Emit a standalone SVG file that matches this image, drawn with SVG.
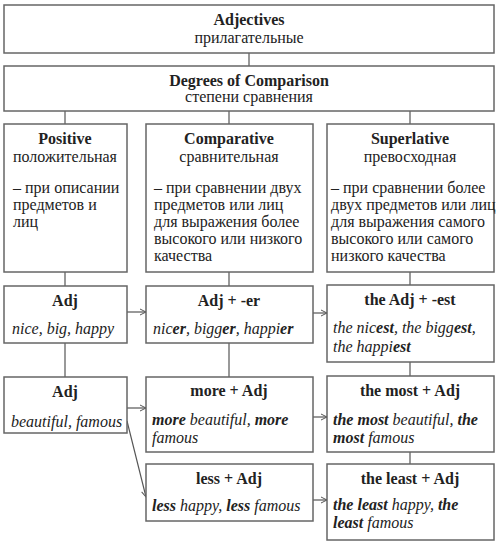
<svg xmlns="http://www.w3.org/2000/svg" width="500" height="552" viewBox="0 0 500 552">
<defs>
<marker id="ah" viewBox="0 0 8 8" refX="7" refY="4" markerWidth="8" markerHeight="8" markerUnits="userSpaceOnUse" orient="auto">
<path d="M1,1 L7,4 L1,7" fill="none" stroke="#555" stroke-width="1"/>
</marker>
</defs>
<rect width="500" height="552" fill="#fff"/>
<g id="connectors" stroke="#555" stroke-width="1.2" fill="none">
<line x1="249" y1="53" x2="249" y2="66"/>
<line x1="65" y1="111" x2="65" y2="124"/>
<line x1="229" y1="111" x2="229" y2="124"/>
<line x1="410" y1="111" x2="410" y2="124"/>
<line x1="65" y1="272" x2="65" y2="286"/>
<line x1="229" y1="272" x2="229" y2="286"/>
<line x1="410" y1="272" x2="410" y2="285"/>
<line x1="65" y1="343" x2="65" y2="377"/>
<line x1="229" y1="343" x2="229" y2="377"/>
<line x1="410" y1="362" x2="410" y2="376"/>
<line x1="410" y1="452" x2="410" y2="464"/>
<line x1="127" y1="312" x2="146" y2="312" marker-end="url(#ah)"/>
<line x1="313" y1="313" x2="327" y2="313" marker-end="url(#ah)"/>
<line x1="127" y1="408" x2="146" y2="408" marker-end="url(#ah)"/>
<line x1="127" y1="421" x2="146" y2="497" marker-end="url(#ah)"/>
<line x1="313" y1="417" x2="327" y2="417" marker-end="url(#ah)"/>
<line x1="313" y1="500" x2="327" y2="500" marker-end="url(#ah)"/>
</g>
<g id="boxes" fill="#fff" stroke="#666" stroke-width="1.5">
<rect x="4" y="5" width="490" height="48"/>
<rect x="4" y="66" width="490" height="45"/>
<rect x="4" y="124" width="123" height="148"/>
<rect x="146" y="124" width="167" height="148"/>
<rect x="327" y="124" width="167" height="148"/>
<rect x="4" y="286" width="123" height="57"/>
<rect x="146" y="286" width="167" height="57"/>
<rect x="327" y="285" width="167" height="77"/>
<rect x="4" y="377" width="123" height="56"/>
<rect x="146" y="377" width="167" height="75"/>
<rect x="327" y="376" width="167" height="76"/>
<rect x="146" y="464" width="167" height="57"/>
<rect x="327" y="464" width="167" height="76"/>
</g>
<g font-family="Liberation Serif" font-size="16" fill="#222">
<g id="adjectives" text-anchor="middle">
<text font-family="Liberation Serif" font-weight="bold" x="249" y="25">Adjectives</text>
<text font-family="Liberation Serif" x="249" y="43">прилагательные</text>
</g>
<g id="degrees" text-anchor="middle">
<text font-family="Liberation Serif" font-weight="bold" x="249" y="86">Degrees of Comparison</text>
<text font-family="Liberation Serif" x="249" y="102">степени сравнения</text>
</g>
<g id="positive">
<text font-family="Liberation Serif" font-weight="bold" text-anchor="middle" x="65" y="144">Positive</text>
<text font-family="Liberation Serif" text-anchor="middle" x="65" y="162">положительная</text>
<text font-family="Liberation Serif" x="13" y="193">– при описании</text>
<text font-family="Liberation Serif" x="13" y="210">предметов и</text>
<text font-family="Liberation Serif" x="13" y="227">лиц</text>
</g>
<g id="comparative">
<text font-family="Liberation Serif" font-weight="bold" text-anchor="middle" x="229" y="144">Comparative</text>
<text font-family="Liberation Serif" text-anchor="middle" x="229" y="162">сравнительная</text>
<text font-family="Liberation Serif" x="154" y="193">– при сравнении двух</text>
<text font-family="Liberation Serif" x="154" y="210">предметов или лиц</text>
<text font-family="Liberation Serif" x="154" y="227">для выражения более</text>
<text font-family="Liberation Serif" x="154" y="244">высокого или низкого</text>
<text font-family="Liberation Serif" x="154" y="261">качества</text>
</g>
<g id="superlative">
<text font-family="Liberation Serif" font-weight="bold" text-anchor="middle" x="410" y="144">Superlative</text>
<text font-family="Liberation Serif" text-anchor="middle" x="410" y="162">превосходная</text>
<text font-family="Liberation Serif" x="331" y="193">– при сравнении более</text>
<text font-family="Liberation Serif" x="331" y="210">двух предметов или лиц</text>
<text font-family="Liberation Serif" x="331" y="227">для выражения самого</text>
<text font-family="Liberation Serif" x="331" y="244">высокого или самого</text>
<text font-family="Liberation Serif" x="331" y="261">низкого качества</text>
</g>
<g id="adj1">
<text font-family="Liberation Serif" font-weight="bold" text-anchor="middle" x="65" y="306">Adj</text>
<text font-family="Liberation Serif" font-style="italic" x="12" y="334">nice, big, happy</text>
</g>
<g id="adj-er">
<text font-family="Liberation Serif" font-weight="bold" text-anchor="middle" x="229" y="306">Adj + -er</text>
<text font-family="Liberation Serif" font-style="italic" x="153" y="334">nic<tspan font-weight="bold">er</tspan>, bigg<tspan font-weight="bold">er</tspan>, happi<tspan font-weight="bold">er</tspan></text>
</g>
<g id="adj-est">
<text font-family="Liberation Serif" font-weight="bold" text-anchor="middle" x="410" y="305">the Adj + -est</text>
<text font-family="Liberation Serif" font-style="italic" x="333" y="333">the nic<tspan font-weight="bold">est</tspan>, the bigg<tspan font-weight="bold">est</tspan>,</text>
<text font-family="Liberation Serif" font-style="italic" x="333" y="352">the happi<tspan font-weight="bold">est</tspan></text>
</g>
<g id="adj2">
<text font-family="Liberation Serif" font-weight="bold" text-anchor="middle" x="65" y="397">Adj</text>
<text font-family="Liberation Serif" font-style="italic" x="11" y="427">beautiful, famous</text>
</g>
<g id="more">
<text font-family="Liberation Serif" font-weight="bold" text-anchor="middle" x="229" y="396">more + Adj</text>
<text font-family="Liberation Serif" font-style="italic" x="152" y="425"><tspan font-weight="bold">more</tspan> beautiful, <tspan font-weight="bold">more</tspan></text>
<text font-family="Liberation Serif" font-style="italic" x="152" y="443">famous</text>
</g>
<g id="most">
<text font-family="Liberation Serif" font-weight="bold" text-anchor="middle" x="410" y="396">the most + Adj</text>
<text font-family="Liberation Serif" font-style="italic" x="333" y="425"><tspan font-weight="bold">the most</tspan> beautiful, <tspan font-weight="bold">the</tspan></text>
<text font-family="Liberation Serif" font-style="italic" x="333" y="443"><tspan font-weight="bold">most</tspan> famous</text>
</g>
<g id="less">
<text font-family="Liberation Serif" font-weight="bold" text-anchor="middle" x="229" y="484">less + Adj</text>
<text font-family="Liberation Serif" font-style="italic" x="152" y="511"><tspan font-weight="bold">less</tspan> happy, <tspan font-weight="bold">less</tspan> famous</text>
</g>
<g id="least">
<text font-family="Liberation Serif" font-weight="bold" text-anchor="middle" x="410" y="484">the least + Adj</text>
<text font-family="Liberation Serif" font-style="italic" x="333" y="510"><tspan font-weight="bold">the least</tspan> happy, <tspan font-weight="bold">the</tspan></text>
<text font-family="Liberation Serif" font-style="italic" x="333" y="528"><tspan font-weight="bold">least</tspan> famous</text>
</g>
</g>
</svg>
